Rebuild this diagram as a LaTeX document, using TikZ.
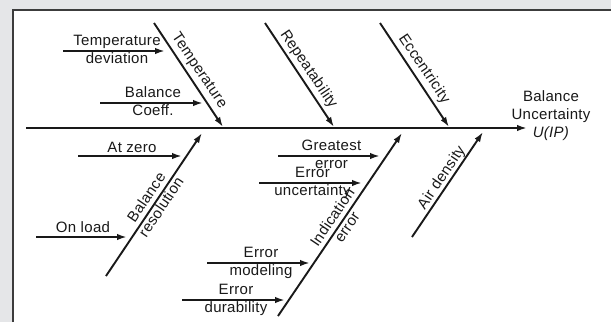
\documentclass[tikz,border=0pt]{standalone}
\usepackage{fontspec}
\setmainfont{Liberation Sans}[LetterSpace=2]
\usetikzlibrary{arrows.meta}
\definecolor{panelgray}{RGB}{229,230,232}
\definecolor{framegray}{RGB}{60,60,60}
\definecolor{ink}{RGB}{25,25,25}
% two stacked words, each with a strut so the node centre falls between them
\newcommand{\pairtext}[2]{\strut#1\\\strut#2}
\begin{document}
\begin{tikzpicture}[x=1pt,y=-1pt,
  bone/.style={draw=ink, line width=1.9pt},
  headbone/.style={bone, -{Latex[length=10pt,width=6.5pt]}},
  cause/.style={draw=ink, line width=2.1pt, -{Latex[length=10pt,width=6.5pt]}},
  lbl/.style={font=\fontsize{15}{17.8}\selectfont, align=center, inner sep=0pt, text=ink},
]
\useasboundingbox (0,0) rectangle (611,322);
% panel and frame
\fill[panelgray] (0,0) rectangle (611,322);
\fill[white] (13,10) rectangle (611,322);
\draw[framegray, line width=1.3pt] (13,322) -- (13,10) -- (611,10);

% spine and effect
\coordinate (tail) at (26,128);
\coordinate (head) at (527,128);
\draw[headbone] (tail) -- (head);
\node[lbl] (effect) at (551,116) {\strut Balance\\\strut Uncertainty\\\strut\textit{U(IP)}};

% upper bones
\coordinate (tempS) at (154,23);  \coordinate (tempE) at (223,127);
\coordinate (repS) at (265,23);   \coordinate (repE) at (334,127);
\coordinate (eccS) at (380,23);   \coordinate (eccE) at (449,127);
\draw[headbone] (tempS) -- (tempE);
\draw[headbone] (repS) -- (repE);
\draw[headbone] (eccS) -- (eccE);
\node[lbl, rotate=-56] (tempL) at (199,71) {Temperature};
\node[lbl, rotate=-56] (repL) at (308.5,69.5) {Repeatability};
\node[lbl, rotate=-56] (eccL) at (424,69) {Eccentricity};

% lower bones
\coordinate (resS) at (106,276);  \coordinate (resE) at (202,133);
\coordinate (indS) at (278,316);  \coordinate (indE) at (402,133);
\coordinate (airS) at (412,237);  \coordinate (airE) at (483,132);
\draw[headbone] (resS) -- (resE);
\draw[headbone] (indS) -- (indE);
\draw[headbone] (airS) -- (airE);
\node[lbl, rotate=56] (resL) at (155,203) {\pairtext{Balance}{resolution}};
\node[lbl, rotate=56] (indL) at (341,223) {\pairtext{Indication}{error}};
\node[lbl, rotate=56] (airL) at (442,178) {Air density};

% causes feeding the bones
\coordinate (tdS) at (63,51);    \coordinate (tdE) at (165,51);
\coordinate (bcS) at (100,103);  \coordinate (bcE) at (203,103);
\coordinate (azS) at (78,156);   \coordinate (azE) at (182,156);
\coordinate (olS) at (36,237);   \coordinate (olE) at (127,237);
\coordinate (geS) at (278,156);  \coordinate (geE) at (380,156);
\coordinate (euS) at (259,183);  \coordinate (euE) at (362,183);
\coordinate (emS) at (207,263);  \coordinate (emE) at (310,263);
\coordinate (edS) at (182,300);  \coordinate (edE) at (285,300);
\foreach \c in {td,bc,az,ol,ge,eu,em,ed} \draw[cause] (\c S) -- (\c E);

\node[lbl] (tdL) at (117,51) {\pairtext{Temperature}{deviation}};
\node[lbl] (bcL) at (153,103) {\pairtext{Balance}{Coeff.}};
\node[lbl, anchor=base] (azL) at (132,152) {At zero};
\node[lbl, anchor=base] (olL) at (83,232.5) {On load};
\node[lbl] (geL) at (331.5,156) {\pairtext{Greatest}{error}};
\node[lbl] (euL) at (312.5,183) {\pairtext{Error}{uncertainty}};
\node[lbl] (emL) at (261,263) {\pairtext{Error}{modeling}};
\node[lbl] (edL) at (236,300) {\pairtext{Error}{durability}};
\end{tikzpicture}
\end{document}
